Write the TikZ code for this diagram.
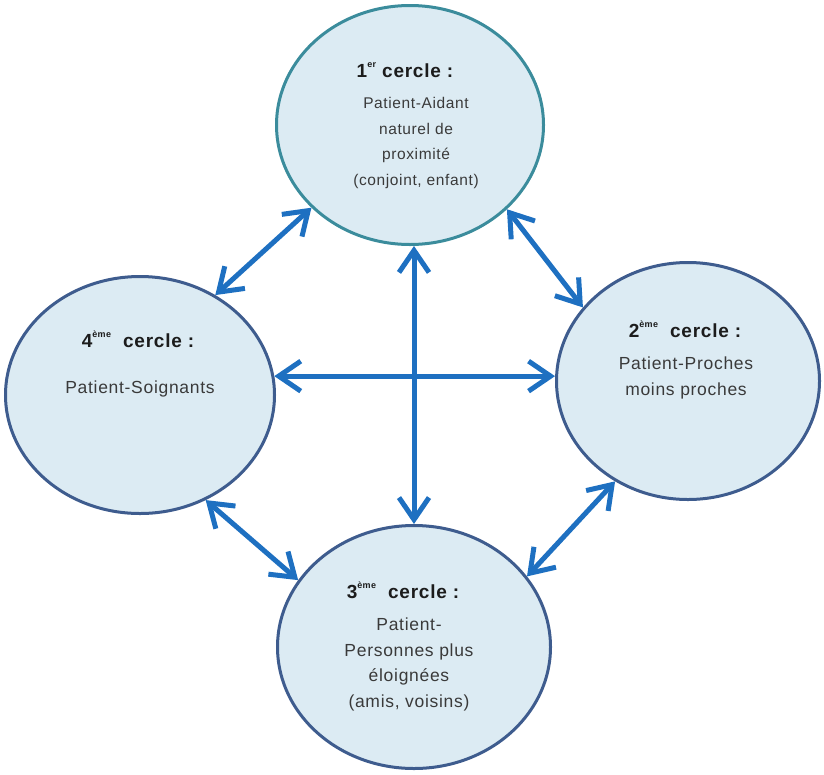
\documentclass[tikz,border=0pt]{standalone}
\usepackage{fontspec}
\setmainfont{Liberation Sans}[LetterSpace=4]
\usetikzlibrary{shapes.geometric,arrows.meta}
\definecolor{fillblue}{HTML}{DCEBF3}
\definecolor{rimteal}{HTML}{3B8C9C}
\definecolor{rimnavy}{HTML}{3E5C8E}
\definecolor{arrowblue}{HTML}{1E70C1}
\definecolor{textgrey}{HTML}{3A3A3A}
\definecolor{titlegrey}{HTML}{1C1C1C}
\newcommand{\rang}[1]{\raisebox{0.5em}{\fontsize{9}{9}\selectfont #1}}
\begin{document}
\begin{tikzpicture}[x=1pt,y=-1pt,
  cercle/.style={ellipse, draw=rimnavy, fill=fillblue, line width=3pt, inner sep=0pt},
  titre/.style={anchor=base, text=titlegrey, font=\bfseries\fontsize{19}{22}\selectfont},
  corps/.style={anchor=base, align=center, text=textgrey, font=\fontsize{17.5}{25.5}\selectfont},
  lien/.style={draw=arrowblue, line width=5pt, >={Straight Barb[length=22pt,width=30pt]}, <->}
]
\useasboundingbox (0,0) rectangle (824,774);

% the four circles
\node[cercle, draw=rimteal, minimum width=267pt, minimum height=239pt] (c1) at (410,125) {};
\node[cercle, minimum width=263pt, minimum height=237pt] (c2) at (688,381) {};
\node[cercle, minimum width=273pt, minimum height=243pt] (c3) at (414,647) {};
\node[cercle, minimum width=269pt, minimum height=237pt] (c4) at (140,395) {};

% titles and descriptions (a description is placed by the baseline of its last line)
\node[titre] (t1) at (405,77) {1\rang{er} cercle :};
\node[corps, font=\fontsize{15.5}{25.5}\selectfont] (b1) at (416,185) {Patient-Aidant\\naturel de\\proximité\\(conjoint, enfant)};

\node[titre] (t2) at (685,337) {2\rang{ème}\ \ cercle :};
\node[corps] (b2) at (686,395) {Patient-Proches\\moins proches};

\node[titre] (t3) at (403,598) {3\rang{ème}\ \ cercle :};
\node[corps] (b3) at (409,707) {Patient-\\Personnes plus\\éloignées\\(amis, voisins)};

\node[titre] (t4) at (138,347) {4\rang{ème}\ \ cercle :};
\node[corps] (b4) at (140,393) {Patient-Soignants};

% links between the circles
\draw[lien] (c4.53) -- (c1.220);
\draw[lien] (c1.319) -- (c2.145);
\draw[lien] (c4.302) -- (c3.150);
\draw[lien] (c2.234) -- (c3.32);
\draw[lien] (c4.8) -- (c4.8 -| c2.west);
\draw[lien] (c3.north |- c1.south) -- (c3.north);
\end{tikzpicture}
\end{document}
